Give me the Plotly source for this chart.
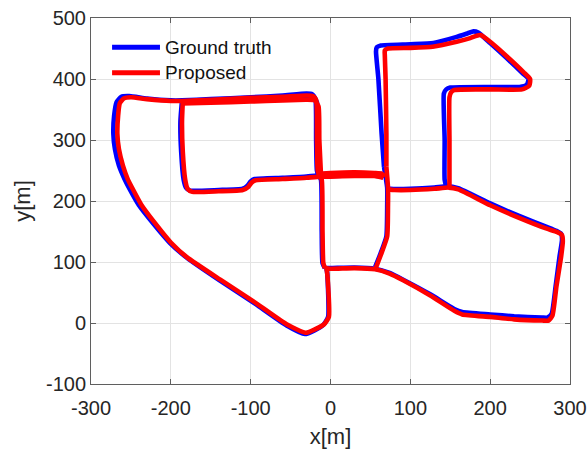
import plotly.graph_objects as go

# Vehicle trajectories in metres. Each road pass is a separate run of points,
# with None marking a break between passes.
gt_x = [
    # western loop, top road and return down the central street
    -5, -4, -3, -9, -20, -32, -55, -97, -138, -180, -201, -222, -240, -251, -258, -265, -270, -272,
    -271, -268, -262, -252, -230, -200, -186, -150, -100, -60, -30, -23, -19, -18, -17, -15, -12, -11, -10, -7, None,
    # second pass along the top road
    -186, -150, -100, -60, -30, -22, -17, -16, -14, None,
    # inner block
    -186, -188, -187, -184, -181, -176, -140, -110, -104, -100, -95, -60, -30, -14, None,
    # middle bar, two passes
    -14, 0, 30, 55, 64, 68, None,
    -14, 0, 30, 55, 66, None,
    # eastern street going south
    67, 69, 71, 71, 70, 63, 56, None,
    # north-east loop
    67, 64, 60, 57, 58, 63, 100, 129, 158, 172, 179, 185, 200, 220, 241, 248, 246, 237, 200, 150, 145, 142, 143,
    143, 145, None,
    # south-east loop back to the start
    70, 75, 100, 130, 145, 160, 200, 237, 270, 283, 289, 290, 287, 282, 277, 272, 265, 230, 200, 165, 155, 125,
    91, 74, 56, 30, 0, -7,
]
gt_y = [
    90, 80, 10, -3, -12, -18, -4, 34, 69, 107, 131, 163, 193, 218, 236, 258, 285, 310,
    340, 362, 371, 372, 368, 365, 365, 367, 370, 373, 376, 375, 368, 300, 250, 242, 235, 150, 98, 90, None,
    363, 365, 368, 370, 372, 371, 362, 300, 245, None,
    365, 330, 280, 235, 222, 217, 218, 220, 225, 232, 236, 238, 240, 242, None,
    244, 245, 246, 245, 244, 240, None,
    241, 241, 242, 242, 239, None,
    256, 240, 222, 190, 142, 115, 92, None,
    256, 311, 400, 445, 452, 455, 457, 459, 469, 475, 478, 476, 459, 435, 409, 400, 391, 387, 387, 386, 383, 376, 300,
    235, 224, None,
    221, 220, 220, 222, 224, 221, 196, 175, 158, 151, 146, 136, 110, 60, 15, 9, 9, 11, 14, 18, 23, 47,
    71, 82, 89, 91, 90, 90,
]

est_x = [
    -5, -4, -2, -8, -19, -31, -55, -97, -138, -180, -200, -220, -237, -247, -254, -260, -265, -267,
    -266, -264, -259, -250, -230, -200, -186, -150, -100, -60, -30, -22, -18, -17, -16, -14, -11, -10, -9, -7, None,
    -186, -150, -100, -60, -30, -20, -15, -14, -12, None,
    -185, -186, -185, -182, -179, -173, -140, -110, -103, -99, -94, -60, -30, -14, None,
    -14, 0, 30, 55, 64, 68, None,
    -14, 0, 30, 55, 66, None,
    70, 71, 72, 72, 71, 64, 57, None,
    70, 70, 69, 68, 68, 72, 100, 128, 158, 175, 183, 188, 200, 221, 242, 250, 249, 240, 200, 155, 151, 149, 149,
    149, 149, None,
    72, 80, 100, 130, 148, 160, 200, 237, 270, 284, 290, 291, 289, 283, 278, 273, 265, 230, 200, 165, 155, 125,
    91, 74, 56, 30, 0, -7,
]
est_y = [
    90, 80, 10, -2, -10, -16, -2, 36, 71, 108, 132, 164, 194, 218, 236, 258, 285, 310,
    340, 360, 368, 370, 367, 364, 364, 366, 369, 371, 373, 372, 366, 300, 250, 242, 235, 150, 98, 90, None,
    360, 361, 363, 365, 366, 365, 355, 300, 245, None,
    364, 330, 280, 235, 220, 215, 216, 218, 223, 230, 234, 236, 238, 240, None,
    245, 246, 247, 246, 245, 240, None,
    240, 240, 241, 241, 238, None,
    256, 240, 222, 190, 142, 115, 91, None,
    256, 311, 400, 440, 447, 450, 451, 453, 461, 467, 471, 472, 461, 437, 411, 400, 389, 383, 383, 382, 378, 370, 300,
    235, 224, None,
    219, 218, 218, 220, 222, 219, 193, 172, 155, 149, 144, 134, 110, 60, 12, 4, 4, 6, 10, 14, 20, 45,
    70, 81, 88, 90, 89, 90,
]

series_names = ["Ground truth", "Proposed"]
series_colors = ["#0000ff", "#ff0000"]

x_ticks = [-300, -200, -100, 0, 100, 200, 300]
y_ticks = [-100, 0, 100, 200, 300, 400, 500]

font_family = "Liberation Sans, Arial, sans-serif"
ink = "#262626"
frame = "#5f5f5f"

fig = go.Figure()
for name, color, xs, ys in zip(series_names, series_colors, [gt_x, est_x], [gt_y, est_y]):
    fig.add_trace(go.Scatter(
        x=xs, y=ys, name=name, mode="lines", connectgaps=False,
        line=dict(color=color, width=4.6, shape="spline", smoothing=0.5), showlegend=False,
    ))

# Legend drawn in the upper-left corner of the axes box
legend_rows = [0.92, 0.8505]
for name, color, yp in zip(series_names, series_colors, legend_rows):
    fig.add_shape(type="line", xref="paper", yref="paper", x0=0.044, x1=0.144, y0=yp, y1=yp,
                  line=dict(color=color, width=5))
    fig.add_annotation(xref="paper", yref="paper", x=0.150, y=yp, text=name, showarrow=False,
                       xanchor="left", yanchor="middle", font=dict(family=font_family, size=19, color="#111111"))

axis_common = dict(
    showgrid=True, gridcolor="#e3e3e3", gridwidth=1,
    zeroline=False, showline=True, linecolor=frame, linewidth=1, mirror="ticks",
    ticks="inside", ticklen=5, tickcolor=frame, tickwidth=1,
    tickfont=dict(family=font_family, size=20, color=ink),
)

fig.update_xaxes(range=[-300, 300], tickvals=x_ticks, ticktext=[str(v) for v in x_ticks],
                 ticklabelstandoff=6,
                 title=dict(text="x[m]", font=dict(family=font_family, size=22, color=ink), standoff=10),
                 **axis_common)
fig.update_yaxes(range=[-100, 500], tickvals=y_ticks, ticktext=[str(v) for v in y_ticks],
                 title=dict(text="y[m]", font=dict(family=font_family, size=22, color=ink), standoff=9),
                 **axis_common)

fig.update_layout(
    width=588, height=450,
    margin=dict(l=91, r=18, t=18, b=66, autoexpand=False),
    paper_bgcolor="white", plot_bgcolor="white",
    showlegend=False,
)

fig.write_html("out.html")
